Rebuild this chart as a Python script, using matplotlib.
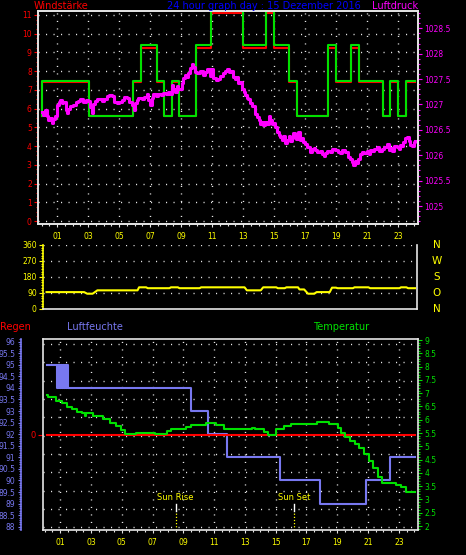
import numpy as np
import matplotlib
matplotlib.use('Agg')
import matplotlib.pyplot as plt
from matplotlib.ticker import MultipleLocator, FormatStrFormatter

# ---------------- data ----------------
hour_ticks = list(range(1, 24, 2))
hour_labels = ['%02d' % h for h in hour_ticks]

# wind strength (steps): gust = green, average = red
wind_t = [0.0, 0.05, 3.05, 5.88, 6.42, 7.47, 7.92, 8.40, 8.89, 9.99, 10.92, 12.98, 14.46,
          14.98, 15.97, 16.48, 18.48, 18.98, 19.95, 20.46, 22.01, 22.48, 22.98, 23.52, 24.1]
gust_v = [5.6, 7.5, 5.6, 7.5, 9.4, 7.5, 5.6, 7.5, 5.6, 9.4, 11.2, 9.4, 11.2,
          9.4, 7.5, 5.6, 9.4, 7.5, 9.4, 7.5, 5.6, 7.5, 5.6, 7.5, 7.5]
wind_avg_v = [5.58, 7.4, 5.58, 7.4, 9.22, 7.4, 5.58, 7.4, 5.58, 9.22, 11.08, 9.22, 11.08,
              9.22, 7.4, 5.58, 9.22, 7.4, 9.22, 7.4, 5.58, 7.4, 5.58, 7.4, 7.4]

# air pressure (hPa)
pressure_t = [0.0, 0.12, 0.23, 0.35, 0.44, 0.55, 0.66, 0.77, 0.87, 1.0, 1.1, 1.19, 1.3, 1.41,
              1.55, 1.65, 1.73, 1.85, 2.05, 2.2, 2.38, 2.5, 2.7, 2.85, 3.02, 3.13, 3.24, 3.35,
              3.45, 3.6, 3.88, 4.0, 4.2, 4.35, 4.53, 4.7, 4.85, 5.0, 5.17, 5.35, 5.49, 5.65,
              5.82, 5.95, 6.03, 6.15, 6.25, 6.46, 6.6, 6.78, 6.9, 7.0, 7.1, 7.22, 7.4, 7.54,
              7.7, 7.86, 8.0, 8.18, 8.3, 8.4, 8.5, 8.61, 8.72, 8.83, 9.04, 9.15, 9.26, 9.37,
              9.47, 9.58, 9.69, 9.8, 9.9, 10.05, 10.23, 10.4, 10.55, 10.7, 10.87, 10.98, 11.08,
              11.25, 11.41, 11.52, 11.73, 11.85, 11.95, 12.1, 12.25, 12.35, 12.48, 12.6, 12.7,
              12.8, 12.95, 13.05, 13.13, 13.25, 13.35, 13.45, 13.6, 13.77, 13.9, 14.0, 14.1,
              14.2, 14.3, 14.42, 14.55, 14.65, 14.74, 14.85, 14.95, 15.06, 15.2, 15.3, 15.39,
              15.5, 15.6, 15.71, 15.85, 15.95, 16.03, 16.15, 16.25, 16.35, 16.45, 16.55, 16.68,
              16.8, 16.9, 17.0, 17.15, 17.3, 17.45, 17.55, 17.65, 17.8, 17.97, 18.1, 18.2, 18.3,
              18.45, 18.61, 18.75, 18.94, 19.1, 19.26, 19.4, 19.58, 19.75, 19.9, 20.0, 20.12,
              20.25, 20.35, 20.44, 20.55, 20.66, 20.8, 20.98, 21.1, 21.2, 21.3, 21.45, 21.62,
              21.75, 21.94, 22.1, 22.27, 22.4, 22.5, 22.59, 22.75, 22.92, 23.05, 23.15, 23.24,
              23.35, 23.45, 23.56, 23.7, 23.8, 23.88, 24.0, 24.1]
pressure_v = [1026.86, 1026.80, 1026.90, 1026.78, 1026.70, 1026.74, 1026.63, 1026.72, 1026.78,
              1026.98, 1027.04, 1027.08, 1027.02, 1027.05, 1026.90, 1026.84, 1026.92, 1026.96,
              1026.99, 1027.04, 1027.07, 1027.10, 1027.05, 1027.08, 1027.06, 1026.94, 1026.84,
              1027.00, 1027.06, 1027.10, 1027.06, 1027.10, 1027.16, 1027.19, 1027.17, 1027.05,
              1027.02, 1027.05, 1027.09, 1027.15, 1027.13, 1027.04, 1026.98, 1026.90, 1027.02,
              1027.08, 1027.12, 1027.10, 1027.15, 1027.20, 1027.08, 1026.98, 1027.12, 1027.20,
              1027.17, 1027.20, 1027.18, 1027.22, 1027.20, 1027.24, 1027.20, 1027.38, 1027.30,
              1027.24, 1027.36, 1027.30, 1027.42, 1027.52, 1027.58, 1027.55, 1027.62, 1027.72,
              1027.80, 1027.74, 1027.64, 1027.62, 1027.66, 1027.58, 1027.64, 1027.70, 1027.56,
              1027.70, 1027.52, 1027.48, 1027.50, 1027.56, 1027.62, 1027.66, 1027.70, 1027.64,
              1027.66, 1027.55, 1027.50, 1027.55, 1027.42, 1027.44, 1027.30, 1027.24, 1027.18,
              1027.12, 1027.10, 1027.02, 1026.96, 1026.82, 1026.76, 1026.70, 1026.62, 1026.66,
              1026.60, 1026.66, 1026.62, 1026.78, 1026.70, 1026.62, 1026.64, 1026.56, 1026.46,
              1026.40, 1026.36, 1026.30, 1026.38, 1026.24, 1026.30, 1026.38, 1026.28, 1026.34,
              1026.44, 1026.40, 1026.32, 1026.45, 1026.30, 1026.34, 1026.26, 1026.22, 1026.16,
              1026.06, 1026.12, 1026.14, 1026.10, 1026.06, 1026.08, 1026.02, 1025.98, 1026.04,
              1026.08, 1026.06, 1026.12, 1026.10, 1026.06, 1026.04, 1026.10, 1026.06, 1025.96,
              1025.92, 1025.86, 1025.80, 1025.88, 1025.84, 1025.92, 1026.02, 1026.06, 1026.04,
              1026.08, 1026.02, 1026.10, 1026.08, 1026.12, 1026.16, 1026.08, 1026.12, 1026.16,
              1026.22, 1026.10, 1026.14, 1026.08, 1026.18, 1026.16, 1026.12, 1026.20, 1026.18,
              1026.26, 1026.34, 1026.36, 1026.28, 1026.20, 1026.18, 1026.26, 1026.28]

# wind direction (degrees)
dir_t = [0.12, 2.56, 2.76, 3.11, 3.31, 3.42, 6.03, 6.13, 6.59, 6.69, 8.10, 8.20, 8.65, 8.75,
         10.06, 10.16, 12.98, 13.13, 14.03, 14.19, 15.04, 15.14, 15.59, 15.70, 16.45, 16.55,
         16.85, 17.10, 17.51, 17.66, 18.51, 18.66, 18.92, 19.02, 20.02, 20.12, 21.03, 21.13,
         23.04, 23.14, 23.49, 23.60, 24.05]
dir_v = [95, 95, 86, 86, 98, 105, 105, 122, 122, 117, 117, 122, 122, 117,
         117, 122, 122, 105, 105, 122, 122, 117, 117, 122, 122, 110,
         110, 86, 86, 95, 95, 120, 120, 117, 117, 122, 122, 117,
         117, 122, 122, 117, 117]
dir_ticks = [0, 90, 180, 270, 360]
dir_letters = ['N', 'O', 'S', 'W', 'N']

# humidity (%)
hum_t = [0.13, 0.78, 0.84, 0.90, 0.96, 1.02, 1.08, 1.14, 1.20, 1.26, 1.32, 1.38, 1.44, 1.49,
         9.50, 10.62, 11.82, 15.28, 17.88, 20.87, 22.42, 24.05]
hum_v = [95, 94, 95, 94, 95, 94, 95, 94, 95, 94, 95, 94, 95, 94, 93, 92, 91, 90, 89, 90, 91, 91]

# temperature (deg C)
temp_t = [0.13, 0.24, 0.75, 1.1, 1.43, 1.75, 2.08, 2.40, 2.61, 2.71, 3.11, 3.77, 4.22, 4.62,
          4.98, 5.21, 5.93, 7.14, 7.94, 8.20, 9.15, 9.50, 10.46, 11.11, 11.37, 11.67, 13.48,
          13.63, 14.24, 14.49, 14.99, 15.54, 16.0, 17.71, 18.46, 19.02, 19.22, 19.52, 19.82,
          20.12, 20.43, 20.73, 21.03, 21.33, 21.63, 21.93, 22.19, 22.79, 23.14, 23.45, 24.05]
temp_v = [6.93, 6.84, 6.72, 6.62, 6.49, 6.39, 6.30, 6.24, 6.16, 6.24, 6.14, 6.02, 5.89, 5.76,
          5.61, 5.45, 5.51, 5.45, 5.59, 5.64, 5.74, 5.80, 5.89, 5.80, 5.80, 5.64, 5.70,
          5.64, 5.55, 5.42, 5.64, 5.76, 5.83, 5.93, 5.83, 5.68, 5.49, 5.34, 5.21,
          5.09, 4.92, 4.71, 4.46, 4.17, 3.86, 3.61, 3.61, 3.54, 3.46, 3.29, 3.29]

# rain (mm)
rain_t = [0.13, 24.05]
rain_v = [0, 0]

sun_rise = 8.5
sun_set = 16.2

# ---------------- style ----------------
W, H = 466, 555
BG = 'black'
RED = '#ff0000'
GREEN = '#00e000'
MAGENTA = '#ff00ff'
YELLOW = '#ffff00'
TITLE_BLUE = '#0000ff'
HUM_BLUE = '#7878f0'
WHITE = '#e6e6e6'
DOTS = (0, (0.8, 4.6))
GRID_LW = 1.0
plt.rcParams['font.family'] = 'DejaVu Sans'
TICK_FS = 5.5
HEAD_FS = 7


def box(x0, y0, x1, y1):
    # pixel box (top-left origin) -> figure fraction
    return [x0 / W, 1 - y1 / H, (x1 - x0) / W, (y1 - y0) / H]


def head(x, y, s, color, ha='left'):
    fig.text(x / W, 1 - y / H, s, color=color, fontsize=HEAD_FS, ha=ha, va='center')


def frame(ax, sides=('left', 'right', 'top', 'bottom')):
    for k, s in ax.spines.items():
        s.set_visible(k in sides)
        s.set_color(WHITE)
        s.set_linewidth(1.2)


fig = plt.figure(figsize=(W / 100, H / 100), dpi=100, facecolor=BG)

# ---------------- top panel: wind strength + pressure ----------------
ax1 = fig.add_axes(box(38, 11, 418, 224), facecolor=BG)
ax1.set_xlim(-0.23, 24.29)
ax1.set_ylim(-0.16, 11.21)
frame(ax1)
for v in range(0, 12):
    ax1.axhline(v, color=WHITE, lw=GRID_LW, ls=DOTS, zorder=0)
for h in hour_ticks:
    ax1.axvline(h, color=WHITE, lw=GRID_LW, ls=DOTS, zorder=0)
ax1.step(wind_t, wind_avg_v, where='post', color=RED, lw=1.5)
ax1.step(wind_t, gust_v, where='post', color=GREEN, lw=1.5)
ax1.set_yticks(range(0, 12))
ax1.yaxis.set_minor_locator(MultipleLocator(0.25))
ax1.tick_params(axis='y', which='both', color=RED, labelcolor=RED, labelsize=TICK_FS, pad=1.5, width=0.8)
ax1.tick_params(axis='y', which='major', length=3)
ax1.tick_params(axis='y', which='minor', length=1.5)
ax1.set_xticks(hour_ticks)
ax1.set_xticklabels(hour_labels)
ax1.xaxis.set_minor_locator(MultipleLocator(0.5))
ax1.tick_params(axis='x', which='both', color=WHITE, labelcolor=YELLOW, labelsize=TICK_FS, width=0.8, pad=3)
ax1.tick_params(axis='x', which='major', length=2.5)
ax1.tick_params(axis='x', which='minor', length=1.5)

ax1r = ax1.twinx()
ax1r.set_ylim(1024.646, 1028.84)
frame(ax1r)
ax1r.step(pressure_t, pressure_v, where='post', color=MAGENTA, lw=2.2)
ax1r.yaxis.set_major_locator(MultipleLocator(0.5))
ax1r.yaxis.set_minor_locator(MultipleLocator(0.1))
ax1r.yaxis.set_major_formatter(FormatStrFormatter('%g'))
ax1r.tick_params(axis='y', which='both', color=MAGENTA, labelcolor=MAGENTA, labelsize=TICK_FS, pad=1.5, width=0.8)
ax1r.tick_params(axis='y', which='major', length=3)
ax1r.tick_params(axis='y', which='minor', length=1.5)

head(34, 6, 'Windstärke', RED)
head(264, 6, '24 hour graph day : 15 Dezember 2016', TITLE_BLUE, ha='center')
head(371.7, 6, 'Luftdruck', MAGENTA)

# ---------------- middle panel: wind direction ----------------
ax2 = fig.add_axes(box(43, 245, 416.7, 309), facecolor=BG)
ax2.set_xlim(-0.11, 24.16)
ax2.set_ylim(0, 360)
frame(ax2, ('left', 'right', 'bottom'))
ax2.spines['left'].set_color(YELLOW)
for v in dir_ticks[1:]:
    ax2.axhline(v, color=WHITE, lw=GRID_LW, ls=DOTS, zorder=0)
ax2.plot(dir_t, dir_v, color=YELLOW, lw=1.5)
ax2.set_yticks(dir_ticks)
ax2.yaxis.set_minor_locator(MultipleLocator(15))
ax2.tick_params(axis='y', which='both', color=YELLOW, labelcolor=YELLOW, labelsize=TICK_FS, pad=1.5, width=0.8)
ax2.tick_params(axis='y', which='major', length=3)
ax2.tick_params(axis='y', which='minor', length=1.5)
ax2.set_xticks([])
for v, s in zip(dir_ticks, dir_letters):
    ax2.text(1.054, v, s, transform=ax2.get_yaxis_transform(), color=YELLOW,
             fontsize=7.5, ha='center', va='center')

# ---------------- bottom panel: humidity, rain, temperature ----------------
ax3 = fig.add_axes(box(42.7, 339.3, 418.3, 530), facecolor=BG)
ax3.set_xlim(-0.13, 24.26)
ax3.set_ylim(87.86, 96.10)
frame(ax3, ('left',))
ax3.spines['left'].set_position(('outward', 15.6))
ax3.spines['left'].set_color(HUM_BLUE)
for v in np.linspace(87.98, 95.89, 11):
    ax3.axhline(v, color=WHITE, lw=GRID_LW, ls=DOTS, zorder=0)
for h in hour_ticks:
    ax3.axvline(h, color=WHITE, lw=GRID_LW, ls=DOTS, zorder=0)
ax3.step(hum_t, hum_v, where='post', color=HUM_BLUE, lw=1.5)
ax3.yaxis.set_major_locator(MultipleLocator(0.5))
ax3.yaxis.set_minor_locator(MultipleLocator(0.1))
ax3.yaxis.set_major_formatter(FormatStrFormatter('%g'))
ax3.tick_params(axis='y', which='both', color=HUM_BLUE, labelcolor=HUM_BLUE, labelsize=TICK_FS, pad=1.5, width=0.8)
ax3.tick_params(axis='y', which='major', length=2.5)
ax3.tick_params(axis='y', which='minor', length=1.5)
ax3.set_xticks(hour_ticks)
ax3.set_xticklabels(hour_labels)
ax3.xaxis.set_minor_locator(MultipleLocator(0.5))
ax3.tick_params(axis='x', which='both', color=WHITE, labelcolor=YELLOW, labelsize=TICK_FS, width=0.8, pad=3)
ax3.tick_params(axis='x', which='major', length=2.5)
ax3.tick_params(axis='x', which='minor', length=1.5)

ax3r = ax3.twinx()
ax3r.set_ylim(-1.0, 1.0)
frame(ax3r, ())
ax3r.step(rain_t, rain_v, where='post', color=RED, lw=1.5)
ax3r.yaxis.tick_left()
ax3r.set_yticks([0])
ax3r.tick_params(axis='y', color=RED, labelcolor=RED, labelsize=6, length=3.6, width=0.8, pad=1.5)

ax3t = ax3.twinx()
ax3t.set_ylim(1.85, 9.03)
frame(ax3t)
ax3t.step(temp_t, temp_v, where='post', color=GREEN, lw=1.5)
ax3t.yaxis.set_major_locator(MultipleLocator(0.5))
ax3t.yaxis.set_minor_locator(MultipleLocator(0.1))
ax3t.yaxis.set_major_formatter(FormatStrFormatter('%g'))
ax3t.tick_params(axis='y', which='both', color=GREEN, labelcolor=GREEN, labelsize=TICK_FS, pad=1.5, width=0.8)
ax3t.tick_params(axis='y', which='major', length=3)
ax3t.tick_params(axis='y', which='minor', length=1.5)

tr = ax3t.get_xaxis_transform()
for x, s in [(sun_rise, 'Sun Rise'), (sun_set, 'Sun Set')]:
    ax3t.plot([x, x], [0.0, 0.1], transform=tr, color=YELLOW, lw=0.9, ls=(0, (1, 1.5)))
    ax3t.plot([x, x], [0.1, 0.136], transform=tr, color='white', lw=1.0)
    ax3t.text(x, 0.173, s, transform=tr, color=YELLOW, fontsize=6, ha='center', va='center')

head(0, 327, 'Regen', RED)
head(66.7, 327, 'Luftfeuchte', HUM_BLUE)
head(312.7, 327, 'Temperatur', GREEN)

fig.savefig('out.png', dpi=100, facecolor=BG)
